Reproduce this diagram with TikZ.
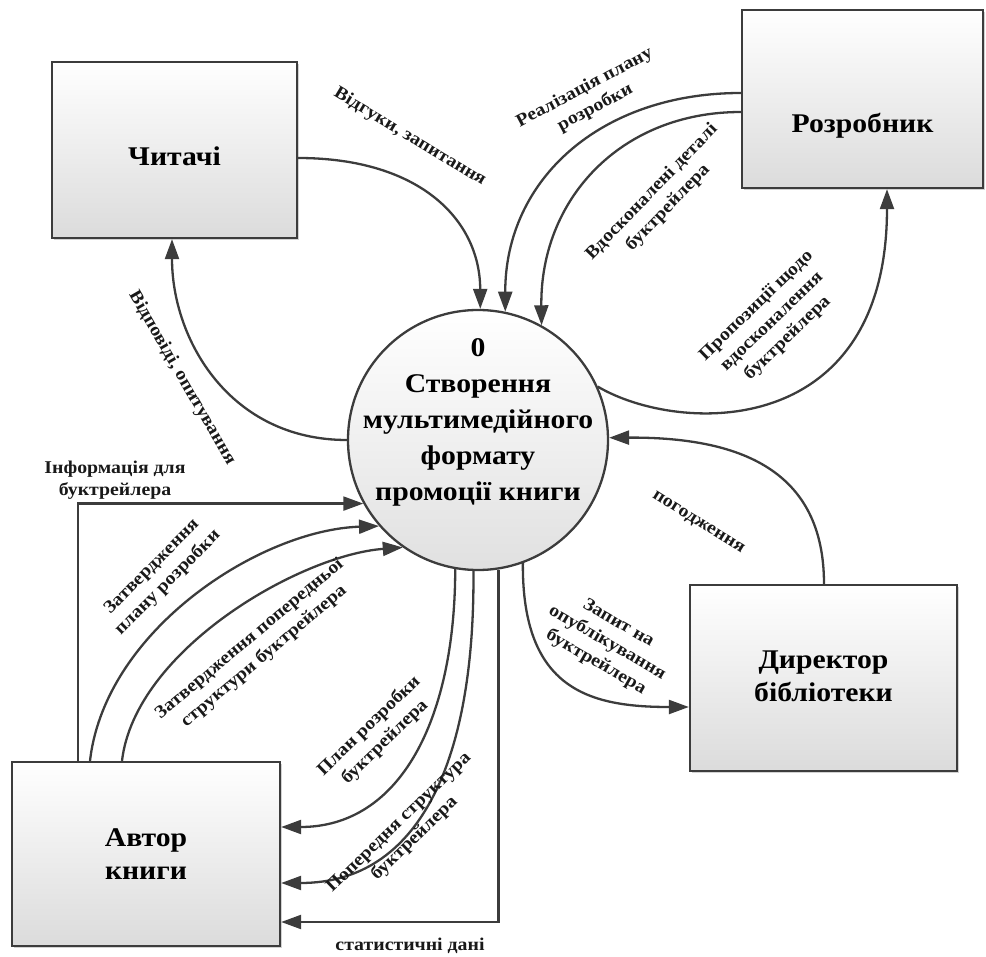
\documentclass[tikz,border=0pt]{standalone}
\usepackage{fontspec}
\setmainfont{Liberation Serif}[FakeStretch=1.1]
\usetikzlibrary{arrows.meta,shadows}
\definecolor{ln}{HTML}{3C3C3C}
\begin{document}
\begin{tikzpicture}[x=1pt,y=-1pt,
  ent/.style={draw=ln,line width=2.3pt,rectangle,top color=white,bottom color=black!14,
    drop shadow={shadow xshift=2pt,shadow yshift=-2pt,fill=black!35,opacity=0.5},
    inner sep=0pt},
  enttext/.style={font=\fontsize{27}{33}\selectfont\bfseries,align=center,inner sep=0pt},
  proc/.style={draw=ln,line width=2.3pt,circle,top color=white,bottom color=black!12,
    minimum size=260pt,inner sep=0pt},
  arr/.style={draw=ln,line width=2.3pt,-{Triangle[length=20pt,width=14pt]}},
  lbl/.style={font=\fontsize{18}{22.5}\selectfont\bfseries,align=center,inner sep=0pt,text=black!90}]
\useasboundingbox (0,0) rectangle (986,957);

% entities
\node[ent,minimum width=245pt,minimum height=176pt] (chyt) at (174.5,150) {};
\node[enttext] (chytt) at ([yshift=-6pt]chyt.center) {Читачі};
\node[ent,minimum width=241pt,minimum height=178pt] (rozr) at (862.5,99) {};
\node[enttext] (rozrt) at ([yshift=-27pt]rozr.center) {Розробник};
\node[ent,minimum width=267pt,minimum height=186pt] (dir) at (823.5,678) {};
\node[enttext] (dirt) at ([yshift=2pt]dir.center) {Директор\\бібліотеки};
\node[ent,minimum width=268pt,minimum height=184pt] (auth) at (146,854) {};
\node[enttext] (autht) at (auth.center) {Автор\\книги};

% process
\node[proc] (c) at (478,440) {};
\node[font=\fontsize{27}{36}\selectfont\bfseries,align=center,inner sep=0pt] (ctext) at (478,422)
  {0\\Створення\\мультимедійного\\формату\\промоції книги};

% connectors
\draw[arr] (chyt.east |- 0,158) .. controls (420,158) and (480,220) .. (c.89);
\draw[arr] (rozr.west |- 0,93) .. controls (600,93) and (505,180) .. (c.78);
\draw[arr] (rozr.west |- 0,112) .. controls (620,112) and (540,200) .. (c.61);
\draw[arr] (c.24) .. controls (680,435) and (887,440) .. (rozr.south -| 887,0);
\draw[arr] (c.180) .. controls (230,440) and (172,340) .. (chyt.south -| 172,0);
\draw[arr] (auth.north -| 78,0) |- (c.209);
\draw[arr] (auth.north -| 90,0) .. controls (105,630) and (260,530) .. (c.221);
\draw[arr] (auth.north -| 122,0) .. controls (135,650) and (300,555) .. (c.235);
\draw[arr] (c.260) .. controls (455,720) and (400,827) .. (auth.east |- 0,827);
\draw[arr] (c.268) .. controls (475,760) and (420,883) .. (auth.east |- 0,883);
\draw[arr] (c.279) |- (auth.east |- 0,922);
\draw[arr] (c.290) .. controls (522,690) and (590,707) .. (dir.west |- 0,707);
\draw[arr] (dir.north -| 824,0) .. controls (824,470) and (740,437) .. (c.1);

% labels
\node[lbl,rotate=-31] (l1) at (410,137) {Відгуки, запитання};
\node[lbl,rotate=28] (l2) at (590,98) {Реалізація плану\\розробки};
\node[lbl,rotate=46] (l3) at (660,200) {Вдосконалені деталі\\буктрейлера};
\node[lbl,rotate=44] (l4) at (772,322) {Пропозиції щодо\\вдосконалення\\буктрейлера};
\node[lbl,rotate=-60] (l5) at (182,378) {Відповіді, опитування};
\node[lbl] (l6) at (115,480) {Інформація для\\буктрейлера};
\node[lbl,rotate=45] (l7) at (160,575) {Затвердження\\плану розробки};
\node[lbl,rotate=40] (l8) at (257,648) {Затвердження попередньої\\структури буктрейлера};
\node[lbl,rotate=44] (l9) at (377,734) {План розробки\\буктрейлера};
\node[lbl,rotate=44] (l10) at (407,831) {Попередня структура\\буктрейлера};
\node[lbl] (l11) at (410,946) {статистичні дані};
\node[lbl,rotate=-30] (l12) at (607,643) {Запит на\\опублікування\\буктрейлера};
\node[lbl,rotate=-32] (l13) at (698,523) {погодження};
\end{tikzpicture}
\end{document}
